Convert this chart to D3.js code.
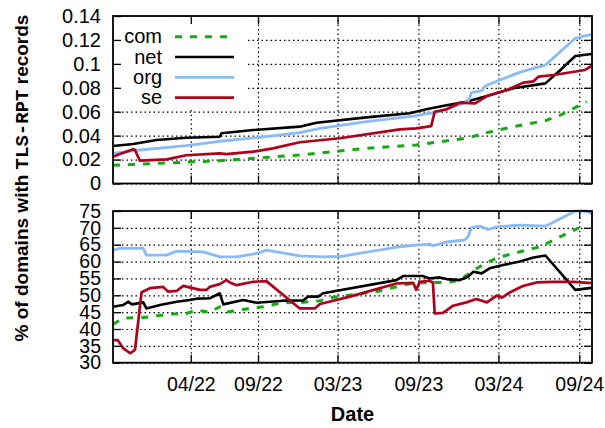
<!DOCTYPE html>
<html>
<head>
<meta charset="utf-8">
<script src="https://cdn.jsdelivr.net/npm/d3@7"></script>
<style>
  body { margin: 0; background: #fff; }
  text { font-family: "Liberation Sans", Arial, sans-serif; }
</style>
</head>
<body>
<div id="chart"></div>
<script>
'use strict';

// series names, legend order
const seriesNames = ["com", "net", "org", "se"];
const seriesColors = ["#13aa13", "#000000", "#88bbf8", "#b0001c"];

// x axis tick dates and labels
const xTickDates = ["2022-04-01", "2022-09-01", "2023-03-01", "2023-09-01", "2024-03-01", "2024-09-01"];
const topTicks = [0, 0.02, 0.04, 0.06, 0.08, 0.1, 0.12, 0.14];
const bottomTicks = [30, 35, 40, 45, 50, 55, 60, 65, 70, 75];

// top panel: % of all domains
const topCom = [
    ["2021-10-06", 0.0152], ["2022-01-21", 0.0169], ["2022-06-06", 0.0191], ["2022-12-05", 0.0238],
    ["2023-05-06", 0.0294], ["2023-08-27", 0.0322], ["2023-12-19", 0.0378], ["2024-02-04", 0.0425],
    ["2024-04-04", 0.0475], ["2024-06-16", 0.0525], ["2024-07-20", 0.0572], ["2024-09-18", 0.0684]
];
const topNet = [
    ["2021-10-06", 0.0313], ["2021-11-21", 0.0330], ["2022-01-13", 0.0364], ["2022-03-22", 0.0383],
    ["2022-06-06", 0.0391], ["2022-06-10", 0.0420], ["2022-08-21", 0.0447], ["2022-12-05", 0.0475],
    ["2023-01-12", 0.0508], ["2023-05-06", 0.0553], ["2023-08-12", 0.0587], ["2023-09-19", 0.0620],
    ["2023-11-04", 0.0654], ["2023-12-19", 0.0684], ["2024-02-04", 0.0731], ["2024-04-04", 0.0796],
    ["2024-06-16", 0.0837], ["2024-07-20", 0.0949], ["2024-08-23", 0.1066], ["2024-09-29", 0.1082]
];
const topOrg = [
    ["2021-10-06", 0.0252], ["2021-12-06", 0.0280], ["2022-03-22", 0.0316], ["2022-06-06", 0.0353],
    ["2022-09-05", 0.0386], ["2022-12-05", 0.0425], ["2023-01-20", 0.0461], ["2023-05-06", 0.0517],
    ["2023-08-20", 0.0564], ["2023-10-19", 0.0600], ["2023-12-23", 0.0684], ["2023-12-31", 0.0759],
    ["2024-01-23", 0.0776], ["2024-01-31", 0.0815], ["2024-03-20", 0.0888], ["2024-04-23", 0.0935],
    ["2024-06-16", 0.0990], ["2024-08-23", 0.1214], ["2024-09-29", 0.1247]
];
const topSe = [
    ["2021-10-06", 0.0224], ["2021-10-22", 0.0246], ["2021-11-21", 0.0286], ["2021-11-25", 0.0280],
    ["2021-12-06", 0.0191], ["2022-02-05", 0.0202], ["2022-03-22", 0.0236], ["2022-06-06", 0.0252],
    ["2022-06-21", 0.0246], ["2022-08-21", 0.0266], ["2022-10-05", 0.0294], ["2022-12-05", 0.0345],
    ["2023-03-06", 0.0378], ["2023-07-21", 0.0453], ["2023-08-27", 0.0461], ["2023-09-30", 0.0480],
    ["2023-10-08", 0.0600], ["2023-11-04", 0.0620], ["2023-12-04", 0.0675], ["2024-01-08", 0.0670],
    ["2024-02-04", 0.0731], ["2024-03-20", 0.0781], ["2024-04-27", 0.0843], ["2024-05-20", 0.0854],
    ["2024-05-31", 0.0893], ["2024-07-05", 0.0907], ["2024-09-14", 0.0949], ["2024-09-29", 0.0982]
];

// bottom panel
const botCom = [
    ["2021-10-06", 41.4], ["2021-10-29", 43.2], ["2021-12-14", 43.4], ["2022-02-12", 44.4],
    ["2022-03-22", 44.6], ["2022-04-14", 45.6], ["2022-05-14", 45.0], ["2022-06-06", 46.6],
    ["2022-06-21", 45.0], ["2022-08-13", 46.1], ["2022-09-13", 46.6], ["2022-10-28", 47.8],
    ["2022-12-13", 47.9], ["2023-01-20", 48.4], ["2023-02-19", 49.4], ["2023-05-29", 51.1],
    ["2023-07-28", 53.0], ["2023-08-27", 53.7], ["2023-11-04", 53.8], ["2023-12-04", 54.5],
    ["2023-12-31", 57.0], ["2024-02-04", 59.8], ["2024-03-05", 61.4], ["2024-04-19", 62.9],
    ["2024-06-04", 64.4], ["2024-07-20", 67.4], ["2024-09-10", 70.6]
];
const botNet = [
    ["2021-10-06", 46.6], ["2021-10-29", 47.1], ["2021-11-10", 48.1], ["2021-11-18", 47.3],
    ["2021-12-14", 47.9], ["2021-12-21", 46.1], ["2022-01-21", 47.1], ["2022-02-28", 48.1],
    ["2022-03-30", 48.6], ["2022-04-14", 49.0], ["2022-05-14", 49.1], ["2022-06-06", 50.6],
    ["2022-06-14", 47.3], ["2022-07-29", 48.6], ["2022-08-29", 47.8], ["2022-10-28", 48.4],
    ["2022-12-13", 48.5], ["2022-12-24", 49.6], ["2023-01-16", 49.6], ["2023-01-27", 50.6],
    ["2023-07-13", 54.5], ["2023-07-28", 55.7], ["2023-09-11", 55.7], ["2023-09-26", 55.0],
    ["2023-10-19", 55.3], ["2023-11-04", 54.8], ["2023-12-04", 54.5], ["2023-12-23", 55.5],
    ["2024-01-04", 57.0], ["2024-01-23", 56.5], ["2024-02-10", 58.0], ["2024-03-12", 59.0],
    ["2024-04-19", 60.0], ["2024-05-20", 61.2], ["2024-06-16", 61.8], ["2024-08-23", 51.6],
    ["2024-09-29", 52.2]
];
const botOrg = [
    ["2021-10-06", 63.4], ["2021-10-22", 63.9], ["2021-12-14", 63.9], ["2021-12-21", 61.9],
    ["2022-02-05", 61.9], ["2022-02-28", 63.1], ["2022-04-29", 62.9], ["2022-06-06", 61.4],
    ["2022-07-14", 61.4], ["2022-08-29", 62.4], ["2022-09-20", 63.4], ["2022-12-05", 61.7],
    ["2023-01-27", 61.4], ["2023-03-06", 61.5], ["2023-07-21", 64.4], ["2023-08-27", 64.9],
    ["2023-09-26", 65.2], ["2023-10-04", 64.7], ["2023-11-04", 65.8], ["2023-12-15", 66.4],
    ["2023-12-23", 67.4], ["2023-12-31", 70.1], ["2024-01-19", 70.5], ["2024-02-07", 69.5],
    ["2024-02-26", 70.3], ["2024-04-19", 70.8], ["2024-06-16", 70.5], ["2024-08-23", 75.0],
    ["2024-09-18", 75.0], ["2024-09-29", 74.2]
];
const botSe = [
    ["2021-10-06", 36.7], ["2021-10-17", 36.7], ["2021-10-29", 34.3], ["2021-11-14", 32.8],
    ["2021-11-25", 33.8], ["2021-12-10", 50.9], ["2021-12-29", 52.1], ["2022-01-28", 52.5],
    ["2022-02-08", 51.1], ["2022-02-28", 51.3], ["2022-03-15", 52.8], ["2022-04-22", 51.6],
    ["2022-05-07", 51.6], ["2022-05-14", 52.5], ["2022-06-06", 53.3], ["2022-06-21", 54.5],
    ["2022-06-29", 53.8], ["2022-07-14", 53.0], ["2022-08-21", 54.0], ["2022-09-20", 54.2],
    ["2022-12-05", 46.1], ["2023-01-08", 46.1], ["2023-01-20", 47.4], ["2023-03-29", 49.6],
    ["2023-07-13", 53.5], ["2023-08-20", 53.7], ["2023-08-27", 51.6], ["2023-09-04", 54.0],
    ["2023-09-26", 54.3], ["2023-10-04", 53.8], ["2023-10-08", 44.6], ["2023-10-27", 44.8],
    ["2023-11-19", 46.9], ["2023-12-19", 47.9], ["2024-01-11", 48.9], ["2024-02-04", 47.9],
    ["2024-02-26", 49.9], ["2024-03-09", 49.3], ["2024-03-28", 50.9], ["2024-04-27", 52.8],
    ["2024-05-27", 53.8], ["2024-07-05", 54.0], ["2024-08-19", 54.0], ["2024-09-29", 53.6]
];

const parse = d3.timeParse("%Y-%m-%d");

const width = 605, height = 428;
const left = 113, right = 592;
const topPanel = { y0: 16, y1: 183.5 };
const botPanel = { y0: 211, y1: 362.7 };
const lineWidths = [3, 2.6, 2.8, 2.7];

const svg = d3.select("#chart").append("svg")
    .attr("width", width)
    .attr("height", height)
    .attr("viewBox", "0 0 " + width + " " + height);

const x = d3.scaleTime()
    .domain([parse("2021-10-06"), parse("2024-09-30")])
    .range([left, right]);

const xTicks = xTickDates.map(parse);

//draws one panel: grid, lines, frame with inward ticks on all sides
function panel(cfg) {
    const y = d3.scaleLinear().domain(cfg.domain).range([cfg.y1, cfg.y0]);
    const g = svg.append("g");
    const h = cfg.y1 - cfg.y0;
    const w = right - left;

    //grid
    const grid = g.append("g").attr("class", "grid");
    grid.append("g")
        .attr("transform", "translate(0," + cfg.y1 + ")")
        .call(d3.axisBottom(x).tickValues(xTicks).tickSize(-h).tickFormat(""));
    grid.append("g")
        .attr("transform", "translate(" + left + ",0)")
        .call(d3.axisLeft(y).tickValues(cfg.ticks).tickSize(-w).tickFormat(""));
    grid.selectAll(".domain").remove();
    grid.selectAll("line")
        .attr("stroke", "#000")
        .attr("stroke-width", 1.2)
        .attr("stroke-dasharray", "1.5,3");

    if (cfg.legend) {
        g.append("rect")
            .attr("x", left + 1).attr("y", cfg.y0 + 1)
            .attr("width", 132).attr("height", 92)
            .attr("fill", "#fff");
    }

    const line = d3.line()
        .x(d => x(parse(d[0])))
        .y(d => y(d[1]));

    cfg.series.forEach((s, i) => {
        g.append("path")
            .datum(s)
            .attr("fill", "none")
            .attr("stroke", seriesColors[i])
            .attr("stroke-width", lineWidths[i])
            .attr("stroke-dasharray", i === 0 ? "7,8" : null)
            .attr("stroke-linejoin", "round")
            .attr("d", line);
    });

    //axes with inward ticks
    const axes = g.append("g").attr("class", "axes");
    axes.append("g")
        .attr("transform", "translate(" + left + ",0)")
        .call(d3.axisLeft(y).tickValues(cfg.ticks).tickSizeInner(-8).tickSizeOuter(0)
            .tickPadding(12).tickFormat(cfg.format));
    axes.append("g")
        .attr("transform", "translate(" + right + ",0)")
        .call(d3.axisRight(y).tickValues(cfg.ticks).tickSizeInner(-8).tickSizeOuter(0).tickFormat(""));
    axes.append("g")
        .attr("transform", "translate(0," + cfg.y0 + ")")
        .call(d3.axisTop(x).tickValues(xTicks).tickSizeInner(-8).tickSizeOuter(0).tickFormat(""));
    axes.append("g")
        .attr("transform", "translate(0," + cfg.y1 + ")")
        .call(d3.axisBottom(x).tickValues(xTicks).tickSizeInner(-8).tickSizeOuter(0)
            .tickPadding(14).tickFormat(cfg.xlabels ? d3.timeFormat("%m/%y") : ""));
    axes.selectAll(".domain").remove();
    axes.selectAll("line").attr("stroke", "#000").attr("stroke-width", 1.3);
    axes.selectAll("text")
        .attr("fill", "#000")
        .style("font-family", "'Liberation Sans', Arial, sans-serif")
        .style("font-size", cfg.fontSize);

    g.append("rect")
        .attr("x", left).attr("y", cfg.y0)
        .attr("width", w).attr("height", h)
        .attr("fill", "none")
        .attr("stroke", "#000")
        .attr("stroke-width", 1.8);

    if (cfg.legend) {
        const lg = g.append("g").attr("class", "legend");
        seriesNames.forEach((name, i) => {
            const ly = 36.7 + i * 20.3;
            lg.append("text")
                .attr("x", 162).attr("y", ly + 6.5)
                .attr("text-anchor", "end")
                .style("font-size", "20px")
                .text(name);
            lg.append("line")
                .attr("x1", 175).attr("x2", 234)
                .attr("y1", ly).attr("y2", ly)
                .attr("stroke", seriesColors[i])
                .attr("stroke-width", lineWidths[i])
                .attr("stroke-dasharray", i === 0 ? "7,8" : null);
        });
    }
}

panel({
    y0: topPanel.y0, y1: topPanel.y1,
    domain: [0, 0.14], ticks: topTicks,
    format: d3.format("~g"), fontSize: "20px",
    series: [topCom, topNet, topOrg, topSe],
    legend: true, xlabels: false
});

panel({
    y0: botPanel.y0, y1: botPanel.y1,
    domain: [30, 75], ticks: bottomTicks,
    format: d3.format("d"), fontSize: "19.5px",
    series: [botCom, botNet, botOrg, botSe],
    legend: false, xlabels: true
});

//axis titles
const ytitle = svg.append("text")
    .attr("transform", "translate(28,178) rotate(-90)")
    .attr("text-anchor", "middle")
    .style("font-weight", "bold")
    .style("font-size", "19px");
ytitle.append("tspan").text("% of domains with ");
ytitle.append("tspan")
    .style("font-family", "'Liberation Mono', 'Courier New', monospace")
    .text("TLS-RPT");
ytitle.append("tspan").text(" records");

svg.append("text")
    .attr("x", (left + right) / 2).attr("y", 421)
    .attr("text-anchor", "middle")
    .style("font-weight", "bold")
    .style("font-size", "20px")
    .text("Date");
</script>
</body>
</html>
